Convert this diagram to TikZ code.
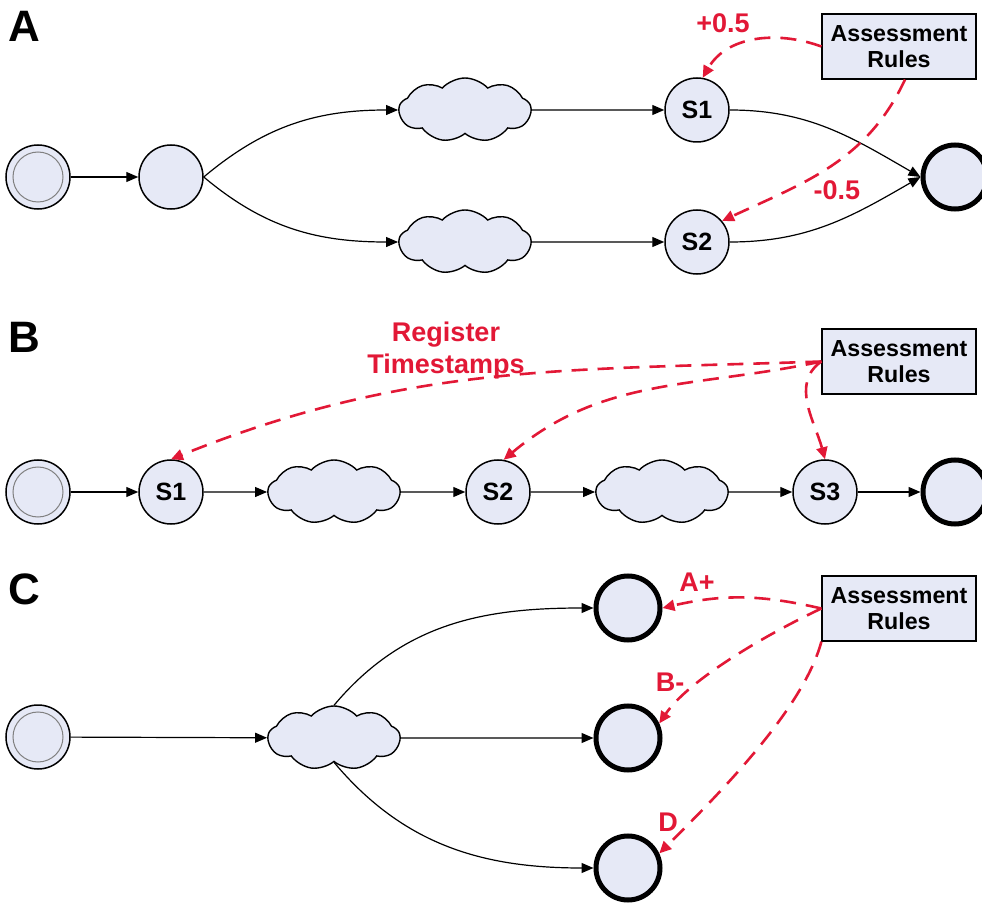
\documentclass[tikz,border=0pt]{standalone}
\usepackage{fontspec}
\setmainfont{Liberation Sans}
\usepackage{tikz}
\usetikzlibrary{arrows.meta,shapes.symbols,positioning}

\definecolor{statefill}{RGB}{230,233,246}
\definecolor{rulered}{RGB}{226,24,54}

\tikzset{
  state/.style={circle, draw, line width=0.75pt, fill=statefill, minimum size=32pt,
    inner sep=0pt, font=\bfseries\fontsize{12.5}{12.5}\selectfont},
  start/.style={state, path picture={\draw[gray, line width=0.5pt]
    (path picture bounding box.center) circle (12.5pt);}},
  final/.style={state, line width=2.5pt},
  task/.style={cloud, cloud puffs=9, cloud puff arc=95, aspect=2.1, draw, line width=0.7pt,
    fill=statefill, minimum width=66pt, minimum height=32pt},
  rules/.style={rectangle, draw, line width=0.6pt, fill=statefill, minimum width=77pt,
    minimum height=32.5pt, align=center, font=\bfseries\fontsize{11.6}{13}\selectfont},
  flow/.style={-{Triangle[length=6pt,width=5pt]}, line width=0.6pt},
  assess/.style={-{Triangle[length=6pt,width=5.5pt]}, draw=rulered, line width=1.3pt,
    dash pattern=on 8pt off 5pt},
  note/.style={text=rulered, font=\bfseries\fontsize{13.5}{16}\selectfont, align=center},
  panel/.style={font=\bfseries\fontsize{22}{22}\selectfont}
}

\begin{document}
\begin{tikzpicture}[x=0.5pt, y=0.5pt]
  \useasboundingbox (0,0) rectangle (982,902);

  % A
  \node[panel] (la) at (24,876) {A};
  \node[start] (a0) at (38,725) {};
  \node[state] (a1) at (171,725) {};
  \node[task] (ca1) at (465,792) {};
  \node[task] (ca2) at (465,660) {};
  \node[state] (as1) at (697,792) {S1};
  \node[state] (as2) at (697,660) {S2};
  \node[final] (ae) at (955,725) {};
  \node[rules] (ra) at (899,855.5) {Assessment\\Rules};

  \draw[flow] (a0) -- (a1);
  \draw[flow] (a1.east) to[out=40,in=180] (ca1.west);
  \draw[flow] (a1.east) to[out=-40,in=180] (ca2.west);
  \draw[flow] (ca1) -- (as1);
  \draw[flow] (ca2) -- (as2);
  \draw[flow] (as1.east) to[out=0,in=150] (ae.west);
  \draw[flow] (as2.east) to[out=0,in=210] (ae.west);

  \draw[assess] (ra.west) to[out=160,in=60] (as1.80);
  \draw[assess] ([xshift=3pt]ra.south) to[out=-115,in=25] (as2.40);
  \node[note] (pa) at (723,879) {+0.5};
  \node[note] (ma) at (837,712) {-0.5};

  % B
  \node[panel] (lb) at (24,565) {B};
  \node[start] (b0) at (38,410) {};
  \node[state] (bs1) at (171,410) {S1};
  \node[task] (cb1) at (334,410) {};
  \node[state] (bs2) at (498,410) {S2};
  \node[task] (cb2) at (662,410) {};
  \node[state] (bs3) at (825,410) {S3};
  \node[final] (be) at (955,410) {};
  \node[rules] (rb) at (899,540.5) {Assessment\\Rules};

  \foreach \u/\v in {b0/bs1, bs1/cb1, cb1/bs2, bs2/cb2, cb2/bs3, bs3/be}
    \draw[flow] (\u) -- (\v);

  \draw[assess] (rb.west) to[out=182,in=22] (bs1.north);
  \draw[assess] (rb.west) to[out=192,in=40] (bs2.80);
  \draw[assess] (rb.west) to[out=215,in=105] (bs3.north);
  \node[note] (ts) at (446,551) {Register\\Timestamps};

  % C
  \node[panel] (lc) at (24,313) {C};
  \node[start] (c0) at (38,165) {};
  \node[task] (cc) at (334,164) {};
  \node[final] (ce1) at (628,294) {};
  \node[final] (ce2) at (628,164) {};
  \node[final] (ce3) at (628,34) {};
  \node[rules] (rc) at (899,293.5) {Assessment\\Rules};

  \draw[flow] (c0) -- (cc);
  \draw[flow] (cc.north) to[out=50,in=180] (ce1.west);
  \draw[flow] (cc) -- (ce2);
  \draw[flow] (cc.south) to[out=-50,in=180] (ce3.west);

  \draw[assess] (rc.west) to[out=167,in=13] (ce1.east);
  \draw[assess] (rc.west) to[out=205,in=56,looseness=0.7] (ce2.25);
  \draw[assess] (rc.south west) to[out=255,in=45,looseness=0.7] (ce3.25);
  \node[note] (ap) at (697,320) {A+};
  \node[note] (bm) at (670,220) {B-};
  \node[note] (dd) at (668,80) {D};
\end{tikzpicture}
\end{document}
